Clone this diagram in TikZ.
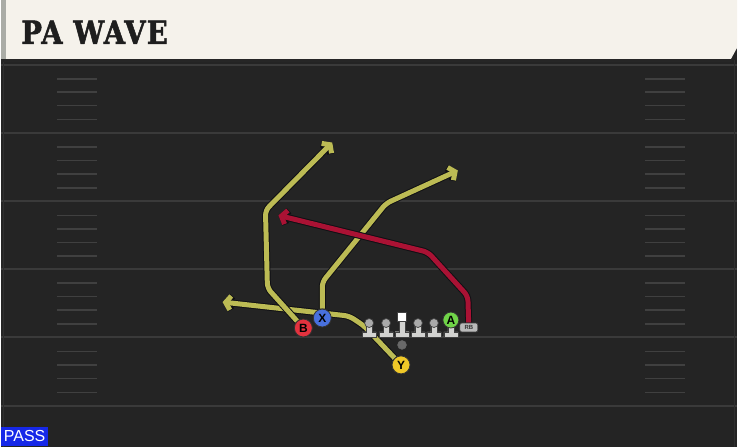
\documentclass[tikz,border=0pt]{standalone}
\usepackage{fontspec}
\setsansfont{Liberation Sans}
\newfontfamily\titlefont[FakeStretch=0.86, FakeBold=1.6, LetterSpace=4, UprightFont=* Bold]{DejaVu Serif}
\usetikzlibrary{arrows.meta, positioning}
\pgfdeclarelayer{field}
\pgfdeclarelayer{routes}
\pgfsetlayers{field,routes,main}
\definecolor{turf}{RGB}{36,36,36}
\definecolor{yardgray}{RGB}{58,58,58}
\definecolor{hashgray}{RGB}{64,64,64}
\definecolor{header}{RGB}{245,242,235}
\definecolor{headerside}{RGB}{170,172,166}
\definecolor{titleink}{RGB}{30,30,30}
\definecolor{yroute}{RGB}{188,187,84}
\definecolor{rroute}{RGB}{170,18,52}
\definecolor{routeedge}{RGB}{16,16,20}
\definecolor{bred}{RGB}{228,50,62}
\definecolor{xblue}{RGB}{72,112,222}
\definecolor{agreen}{RGB}{112,212,72}
\definecolor{yyellow}{RGB}{240,200,40}
\definecolor{icongray}{RGB}{210,210,208}
\definecolor{headgray}{RGB}{170,170,170}
\definecolor{rbgray}{RGB}{185,185,185}
\definecolor{qbgray}{RGB}{105,105,105}
\definecolor{passblue}{RGB}{22,40,232}
% one blocker icon: head, stem and base
\newcommand\blocker[1]{%
  \filldraw[fill=icongray, draw=black!75, line width=0.7pt]
    (#1-7,338) -- (#1+7,338) -- (#1+7,333) -- (#1+3,333) -- (#1+3,326)
    -- (#1-3,326) -- (#1-3,333) -- (#1-7,333) -- cycle;
  \filldraw[fill=headgray, draw=black!75, line width=0.7pt] (#1,324) circle (4.5);
}

\begin{document}
\begin{tikzpicture}[x=1pt, y=-1pt]
        \tikzstyle{yard} = [draw=yardgray, line width=2pt]
        \tikzstyle{hash} = [draw=hashgray, line width=1.5pt]
        \tikzstyle{route} = [line width=5pt, rounded corners=5pt, line join=round,
                             -{Straight Barb[length=5pt, width=14pt]},
                             preaction={draw=routeedge, line width=7pt}]
        \tikzstyle{player} = [circle, draw=black!80, line width=0.8pt, minimum size=18pt, inner sep=0pt,
                              font=\sffamily\bfseries\fontsize{12}{12}\selectfont]
        % field
        \begin{pgfonlayer}{field}
        \fill[turf] (0,0) rectangle (738,448);
        \foreach \y in {65,133.5,202,270,338.5,407}
            \draw[yard] (0,\y) -- (738,\y);
        \foreach \y in {65,133.5,202,270,338.5}
            \foreach \d in {14,27.5,41,55} {
                \draw[hash] (56,\y+\d) -- (96,\y+\d);
                \draw[hash] (646,\y+\d) -- (686,\y+\d);
            }
        \draw[yardgray!50!turf, line width=1pt] (2.5,60) -- (2.5,448);
        \draw[yardgray!50!turf, line width=1pt] (735.5,60) -- (735.5,448);

        % header
        \fill[header] (0,0) -- (738,0) -- (738,48) -- (732,59) -- (0,59) -- cycle;
        \fill[headerside] (0,0) rectangle (5,59);
        \draw[black!85, line width=2.5pt] (0,60.5) -- (733,60.5);
        \end{pgfonlayer}
        \useasboundingbox (0,0) rectangle (738,448);
        \node (title) [anchor=base west, inner sep=0pt, text=titleink,
                       font=\titlefont\fontsize{32}{32}\selectfont] at (20,44) {PA WAVE};

        % line
        \foreach \x in {369,386,418,434,451}
            \blocker{\x}
        \filldraw[fill=icongray, draw=black!75, line width=0.7pt]
            (395,338) -- (409,338) -- (409,333) -- (405,333) -- (405,322)
            -- (399,322) -- (399,333) -- (395,333) -- cycle;
        \node (C) [fill=white, draw=black!75, line width=0.7pt, minimum size=9pt, inner sep=0pt] at (402,318) {};
        \node (qb) [circle, fill=qbgray, draw=black!60, minimum size=9pt, inner sep=0pt] at (402,346) {};

        % skill players
        \node (A) [player, fill=agreen, minimum size=16pt] at (451,321) {A};
        \node (rb) [rounded corners=2pt, fill=rbgray, draw=black!75, line width=0.7pt,
                    minimum width=18pt, minimum height=9pt, inner sep=0pt, text=black!80,
                    font=\sffamily\bfseries\fontsize{6}{6}\selectfont] at (469,328.5) {RB};
        \node (B) [player, fill=bred] at (303,329) {B};
        \node (X) [player, fill=xblue] at (322,319) {X};
        \node (Y) [player, fill=yyellow] at (401,366) {Y};

        % route breaks
        \coordinate (b1) at (267,289);
        \coordinate (b2) at (265,211);
        \coordinate (b3) at (332,143);
        \coordinate (x1) at (322,283);
        \coordinate (x2) at (386,204);
        \coordinate (x3) at (458,171);
        \coordinate (y1) at (364,327);
        \coordinate (y2) at (349,317);
        \coordinate (y3) at (222,303);
        \coordinate (a1) at (468,297);
        \coordinate (a2) at (428,253);
        \coordinate (a3) at (278,216);

        \begin{pgfonlayer}{routes}
        \draw [route, yroute] (Y) -- (y1) -- (y2) -- (y3);
        \draw [route, yroute] (B) -- (b1) -- (b2) -- (b3);
        \draw [route, yroute] (X) -- (x1) -- (x2) -- (x3);
        \draw [route, rroute] (rb) -- (a1) -- (a2) -- (a3);
        \end{pgfonlayer}

        % play type
        \node (play) [anchor=south west, fill=passblue, text=white, inner xsep=2.5pt, inner ysep=0pt,
                      minimum height=20pt, font=\sffamily\fontsize{16}{16}\selectfont] at (0,448) {PASS};
\end{tikzpicture}
\end{document}
